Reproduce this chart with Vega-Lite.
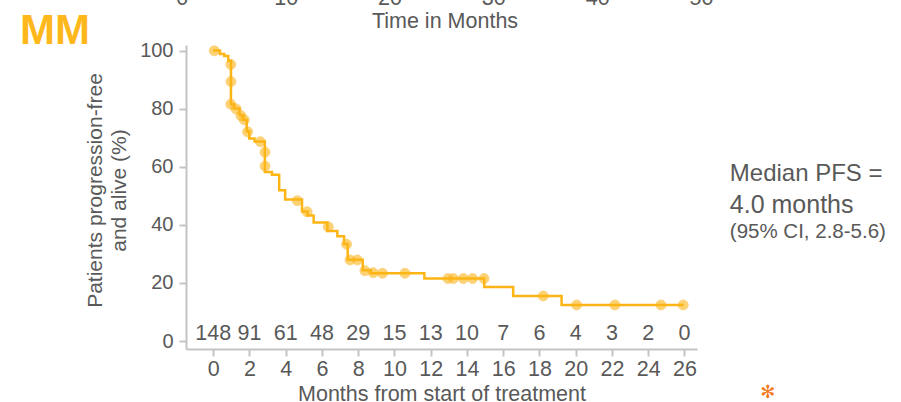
{
  "$schema": "https://vega.github.io/schema/vega-lite/v6.json",
  "width": 511,
  "height": 304,
  "autosize": {"type": "none"},
  "padding": {"left": 186, "top": 45, "right": 204, "bottom": 53},
  "background": "white",
  "config": {
    "view": {"stroke": null},
    "font": "Liberation Sans",
    "axis": {
      "labelFont": "Liberation Sans",
      "titleFont": "Liberation Sans",
      "labelColor": "#595959",
      "titleColor": "#595959",
      "labelFontSize": 20,
      "titleFontSize": 21,
      "titleFontWeight": "normal",
      "domainColor": "#C4C4C4",
      "domainWidth": 2,
      "tickColor": "#C4C4C4",
      "tickWidth": 2,
      "tickSize": 7,
      "grid": false
    },
    "axisX": {"labelOverlap": false, "labelFontSize": 21.5, "titleFontSize": 21.5, "labelPadding": 2, "titlePadding": 4}
  },
  "datasets": {
    "km": [
      {"month": 0, "pct": 100},
      {"month": 0.375, "pct": 98.8},
      {"month": 0.61, "pct": 98.1},
      {"month": 0.83, "pct": 96.5},
      {"month": 0.98, "pct": 81.5},
      {"month": 1.15, "pct": 80.0},
      {"month": 1.45, "pct": 77.8},
      {"month": 1.65, "pct": 76.2},
      {"month": 1.85, "pct": 72.2},
      {"month": 1.99, "pct": 69.7},
      {"month": 2.28, "pct": 68.7},
      {"month": 2.85, "pct": 58.2},
      {"month": 3.24, "pct": 57.2},
      {"month": 3.64, "pct": 51.9},
      {"month": 3.97, "pct": 48.7},
      {"month": 4.9, "pct": 44.6},
      {"month": 5.2, "pct": 43.2},
      {"month": 5.54, "pct": 40.8},
      {"month": 6.3, "pct": 37.9},
      {"month": 6.85, "pct": 36.1},
      {"month": 7.22, "pct": 33.4},
      {"month": 7.42, "pct": 28.0},
      {"month": 8.25, "pct": 24.4},
      {"month": 8.7, "pct": 23.3},
      {"month": 11.65, "pct": 21.5},
      {"month": 14.95, "pct": 18.6},
      {"month": 16.55, "pct": 15.5},
      {"month": 19.22, "pct": 12.4},
      {"month": 25.96, "pct": 12.4}
    ],
    "censor": [
      {"month": 0.06, "pct": 99.9},
      {"month": 0.97, "pct": 95.2},
      {"month": 0.98, "pct": 89.3},
      {"month": 0.97, "pct": 81.5},
      {"month": 1.26, "pct": 79.9},
      {"month": 1.53, "pct": 77.6},
      {"month": 1.72, "pct": 76.1},
      {"month": 1.9, "pct": 72.0},
      {"month": 2.6, "pct": 68.6},
      {"month": 2.86, "pct": 65.0},
      {"month": 2.86, "pct": 60.2},
      {"month": 4.64, "pct": 48.3},
      {"month": 5.18, "pct": 44.5},
      {"month": 6.35, "pct": 39.3},
      {"month": 7.36, "pct": 33.3},
      {"month": 7.55, "pct": 27.9},
      {"month": 7.95, "pct": 27.9},
      {"month": 8.37, "pct": 24.2},
      {"month": 8.83, "pct": 23.5},
      {"month": 9.34, "pct": 23.3},
      {"month": 10.58, "pct": 23.3},
      {"month": 12.95, "pct": 21.5},
      {"month": 13.25, "pct": 21.5},
      {"month": 13.8, "pct": 21.5},
      {"month": 14.31, "pct": 21.5},
      {"month": 14.94, "pct": 21.5},
      {"month": 18.21, "pct": 15.5},
      {"month": 20.05, "pct": 12.4},
      {"month": 22.16, "pct": 12.4},
      {"month": 24.7, "pct": 12.4},
      {"month": 25.93, "pct": 12.4}
    ],
    "risk": [
      {"month": 0, "n": 148},
      {"month": 2, "n": 91},
      {"month": 4, "n": 61},
      {"month": 6, "n": 48},
      {"month": 8, "n": 29},
      {"month": 10, "n": 15},
      {"month": 12, "n": 13},
      {"month": 14, "n": 10},
      {"month": 16, "n": 7},
      {"month": 18, "n": 6},
      {"month": 20, "n": 4},
      {"month": 22, "n": 3},
      {"month": 24, "n": 2},
      {"month": 26, "n": 0}
    ],
    "topaxis": [
      {"t": 0, "label": "0"},
      {"t": 10, "label": "10"},
      {"t": 20, "label": "20"},
      {"t": 30, "label": "30"},
      {"t": 40, "label": "40"},
      {"t": 50, "label": "50"}
    ]
  },
  "layer": [
    {
      "layer": [
        {
          "data": {"name": "km"},
          "mark": {"type": "line", "interpolate": "step-after", "color": "#FDB515", "strokeWidth": 2.5},
          "encoding": {
            "x": {
              "field": "month", "type": "quantitative",
              "scale": {"domain": [-1.5, 26.69], "nice": false, "zero": false},
              "axis": {
                "values": [0, 2, 4, 6, 8, 10, 12, 14, 16, 18, 20, 22, 24, 26],
                "tickCount": 14,
                "labelOverlap": false,
                "title": "Months from start of treatment"
              }
            },
            "y": {
              "field": "pct", "type": "quantitative",
              "scale": {"domain": [-2.75, 101.9], "nice": false, "zero": false},
              "axis": {
                "values": [0, 20, 40, 60, 80, 100],
                "title": ["Patients progression-free", "and alive (%)"],
                "titleLineHeight": 24,
                "labelPadding": 6,
                "titlePadding": 10,
                "titleY": 145
              }
            }
          }
        },
        {
          "data": {"name": "censor"},
          "mark": {"type": "point", "filled": true, "size": 100, "color": "#FDB515", "opacity": 0.6, "stroke": "#F7B52C", "strokeWidth": 1, "strokeOpacity": 0.9},
          "encoding": {
            "x": {"field": "month", "type": "quantitative"},
            "y": {"field": "pct", "type": "quantitative"}
          }
        },
        {
          "data": {"name": "risk"},
          "mark": {"type": "text", "fontSize": 21.5, "color": "#595959", "baseline": "alphabetic", "align": "center"},
          "encoding": {
            "x": {"field": "month", "type": "quantitative"},
            "y": {"datum": 0.4},
            "text": {"field": "n", "type": "quantitative"}
          }
        },
        {
          "data": {"values": [{"label": "MM"}]},
          "mark": {"type": "text", "fontSize": 42, "fontWeight": "bold", "color": "#FFB81C", "baseline": "alphabetic", "align": "left"},
          "encoding": {
            "x": {"datum": -10.66},
            "y": {"datum": 102.4},
            "text": {"field": "label"}
          }
        },
        {
          "data": {"values": [{"label": "Median PFS ="}]},
          "mark": {"type": "text", "fontSize": 24, "color": "#595959", "baseline": "alphabetic", "align": "left"},
          "encoding": {
            "x": {"datum": 28.5},
            "y": {"datum": 55.25},
            "text": {"field": "label"}
          }
        },
        {
          "data": {"values": [{"label": "4.0 months"}]},
          "mark": {"type": "text", "fontSize": 25, "color": "#595959", "baseline": "alphabetic", "align": "left"},
          "encoding": {
            "x": {"datum": 28.5},
            "y": {"datum": 44.06},
            "text": {"field": "label"}
          }
        },
        {
          "data": {"values": [{"label": "(95% CI, 2.8-5.6)"}]},
          "mark": {"type": "text", "fontSize": 20.5, "color": "#595959", "baseline": "alphabetic", "align": "left"},
          "encoding": {
            "x": {"datum": 28.5},
            "y": {"datum": 35.5},
            "text": {"field": "label"}
          }
        },
        {
          "data": {"values": [{"label": "✻"}]},
          "mark": {"type": "text", "fontSize": 18, "color": "#F47920", "baseline": "middle", "align": "center", "font": "DejaVu Sans"},
          "encoding": {
            "x": {"datum": 30.6},
            "y": {"datum": -17.9},
            "text": {"field": "label"}
          }
        }
      ]
    },
    {
      "layer": [
        {
          "data": {"name": "topaxis"},
          "mark": {"type": "text", "fontSize": 21.5, "color": "#595959", "baseline": "alphabetic", "align": "center"},
          "encoding": {
            "x": {"field": "t", "type": "quantitative", "scale": {"domain": [0.356, 49.57], "nice": false, "zero": false}, "axis": null},
            "y": {"datum": 115.8},
            "text": {"field": "label"}
          }
        },
        {
          "data": {"values": [{"label": "Time in Months"}]},
          "mark": {"type": "text", "fontSize": 21.5, "color": "#595959", "baseline": "alphabetic", "align": "center"},
          "encoding": {
            "x": {"datum": 25.3},
            "y": {"datum": 107.6},
            "text": {"field": "label"}
          }
        }
      ]
    }
  ],
  "resolve": {"scale": {"x": "independent"}}
}
